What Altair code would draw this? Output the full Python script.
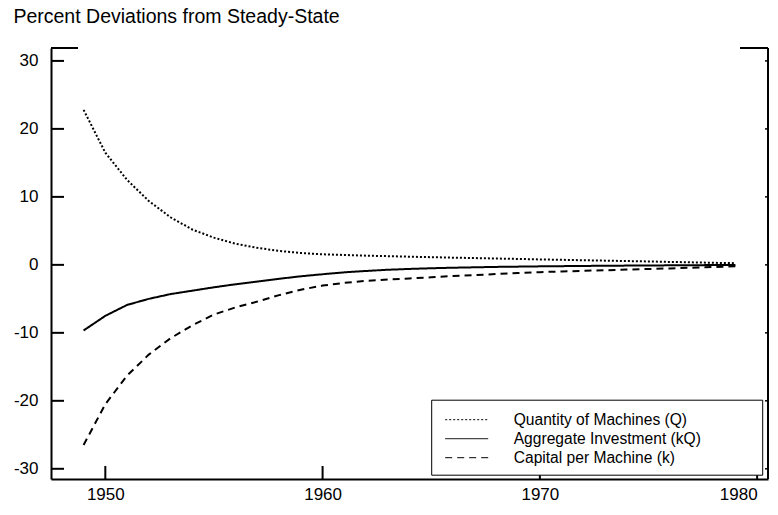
import altair as alt
import pandas as pd

FONT = "Liberation Sans"

years = list(range(1949, 1980))
q_vals = [22.8, 16.5, 12.5, 9.4, 7.0, 5.2, 4.0, 3.1, 2.5, 2.05, 1.75, 1.55, 1.45, 1.35, 1.28, 1.2,
          1.13, 1.06, 1.0, 0.93, 0.87, 0.8, 0.74, 0.68, 0.62, 0.56, 0.5, 0.43, 0.37, 0.3, 0.25]
kq_vals = [-9.65, -7.5, -5.9, -5.0, -4.3, -3.8, -3.3, -2.85, -2.45, -2.05, -1.68, -1.38, -1.1, -0.9,
           -0.72, -0.6, -0.5, -0.42, -0.36, -0.3, -0.26, -0.22, -0.19, -0.16, -0.13, -0.11, -0.09,
           -0.07, -0.05, -0.03, -0.02]
k_vals = [-26.5, -20.5, -16.3, -13.2, -10.8, -8.9, -7.3, -6.25, -5.4, -4.45, -3.65, -3.05, -2.65,
          -2.35, -2.15, -2.0, -1.82, -1.65, -1.5, -1.35, -1.2, -1.07, -0.97, -0.88, -0.79, -0.7,
          -0.61, -0.52, -0.42, -0.32, -0.2]
series_names = ["Quantity of Machines (Q)", "Aggregate Investment (kQ)", "Capital per Machine (k)"]
x_ticks = [1950, 1960, 1970, 1980]
y_ticks = [-30, -20, -10, 0, 10, 20, 30]

rows = []
for name, vals in zip(series_names, [q_vals, kq_vals, k_vals]):
    for yr, v in zip(years, vals):
        rows.append({"year": yr, "value": v, "series": name})
df = pd.DataFrame(rows)

W, H = 717, 431
xscale = alt.Scale(domain=[1947.5, 1980.5], nice=False, zero=False)
yscale = alt.Scale(domain=[-31.5, 31.9], nice=False, zero=False)

x_axis = alt.Axis(values=x_ticks, labelExpr="'' + datum.value", title=None, ticks=False,
                  grid=False, labelPadding=7, labelFlush=15, domainWidth=2,
                  domainColor="black", labelFontSize=17, labelFont=FONT, labelColor="black")
y_axis = alt.Axis(values=y_ticks, labelExpr="'' + datum.value", title=None, ticks=False,
                  grid=False, labelPadding=13, domainWidth=2, domainColor="black",
                  labelFontSize=17, labelFont=FONT, labelColor="black")

lines = alt.Chart(df).mark_line(color="black", strokeWidth=2).encode(
    x=alt.X("year:Q", scale=xscale, axis=x_axis),
    y=alt.Y("value:Q", scale=yscale, axis=y_axis),
    strokeDash=alt.StrokeDash(
        "series:N",
        scale=alt.Scale(domain=series_names, range=[[2, 2], [1, 0], [7, 5]]),
        legend=alt.Legend(
            title=None, orient="none", legendX=380.7, legendY=352.2, padding=10,
            labelFont=FONT, labelFontSize=15.6, labelColor="black", labelOffset=25,
            labelLimit=0,
            symbolType="stroke", symbolSize=1849, symbolStrokeWidth=1, symbolOffset=3,
            symbolStrokeColor="black", clipHeight=19, rowPadding=0,
        ),
    ),
)

ytick_df = pd.DataFrame({"v": y_ticks})
xtick_df = pd.DataFrame({"v": x_ticks})

yticks_left = alt.Chart(ytick_df).mark_rule(color="black", strokeWidth=2).encode(
    y=alt.Y("v:Q", scale=yscale, axis=y_axis), x=alt.value(0), x2=alt.value(13))
yticks_right = alt.Chart(ytick_df).mark_rule(color="black", strokeWidth=1.5).encode(
    y=alt.Y("v:Q", scale=yscale, axis=y_axis), x=alt.value(W - 3), x2=alt.value(W))
xticks = alt.Chart(xtick_df).mark_rule(color="black", strokeWidth=2).encode(
    x=alt.X("v:Q", scale=xscale, axis=x_axis), y=alt.value(H), y2=alt.value(H - 13))

one = pd.DataFrame({"a": [0]})
right_line = alt.Chart(one).mark_rule(color="black", strokeWidth=2).encode(
    x=alt.value(W), y=alt.value(0), y2=alt.value(H))
top_left = alt.Chart(one).mark_rule(color="black", strokeWidth=2).encode(
    x=alt.value(0), x2=alt.value(27), y=alt.value(0))
top_right = alt.Chart(one).mark_rule(color="black", strokeWidth=2).encode(
    x=alt.value(W - 28), x2=alt.value(W), y=alt.value(0))
legend_box = alt.Chart(one).mark_rect(fill="white", stroke="black", strokeWidth=1).encode(
    x=alt.value(380.7), x2=alt.value(711.7), y=alt.value(352.2), y2=alt.value(427.2))

chart = alt.layer(
    lines, yticks_left, yticks_right, xticks, right_line, top_left, top_right, legend_box
).properties(
    width=W, height=H,
    title=alt.TitleParams("Percent Deviations from Steady-State", anchor="start",
                          font=FONT, fontSize=19.5, fontWeight="normal", color="black",
                          offset=19.5),
    autosize=alt.AutoSizeParams(type="none"),
    padding={"left": 43, "top": 40, "right": 2, "bottom": 24},
).configure_view(stroke=None)

chart.save("out.html", embed_options={"renderer": "svg", "actions": False})
